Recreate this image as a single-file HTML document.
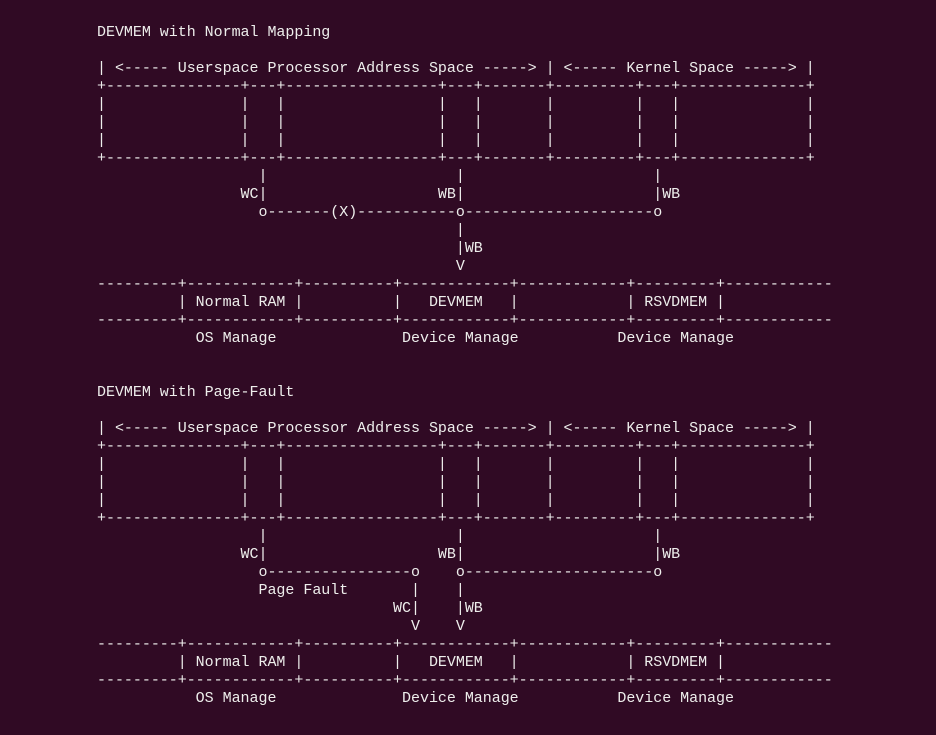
<!DOCTYPE html>
<html><head><meta charset="utf-8"><style>
html,body{margin:0;padding:0;background:#300a24;width:936px;height:735px;overflow:hidden}
pre{position:absolute;left:97px;top:24px;margin:0;font-family:"Liberation Mono",monospace;font-size:15px;line-height:18px;color:#eeeeec;letter-spacing:-0.03px}
</style></head><body><pre>DEVMEM with Normal Mapping

| &lt;----- Userspace Processor Address Space -----&gt; | &lt;----- Kernel Space -----&gt; |
+---------------+---+-----------------+---+-------+---------+---+--------------+
|               |   |                 |   |       |         |   |              |
|               |   |                 |   |       |         |   |              |
|               |   |                 |   |       |         |   |              |
+---------------+---+-----------------+---+-------+---------+---+--------------+
                  |                     |                     |
                WC|                   WB|                     |WB
                  o-------(X)-----------o---------------------o
                                        |
                                        |WB
                                        V
---------+------------+----------+------------+------------+---------+------------
         | Normal RAM |          |   DEVMEM   |            | RSVDMEM |
---------+------------+----------+------------+------------+---------+------------
           OS Manage              Device Manage           Device Manage


DEVMEM with Page-Fault

| &lt;----- Userspace Processor Address Space -----&gt; | &lt;----- Kernel Space -----&gt; |
+---------------+---+-----------------+---+-------+---------+---+--------------+
|               |   |                 |   |       |         |   |              |
|               |   |                 |   |       |         |   |              |
|               |   |                 |   |       |         |   |              |
+---------------+---+-----------------+---+-------+---------+---+--------------+
                  |                     |                     |
                WC|                   WB|                     |WB
                  o----------------o    o---------------------o
                  Page Fault       |    |
                                 WC|    |WB
                                   V    V
---------+------------+----------+------------+------------+---------+------------
         | Normal RAM |          |   DEVMEM   |            | RSVDMEM |
---------+------------+----------+------------+------------+---------+------------
           OS Manage              Device Manage           Device Manage
</pre></body></html>
